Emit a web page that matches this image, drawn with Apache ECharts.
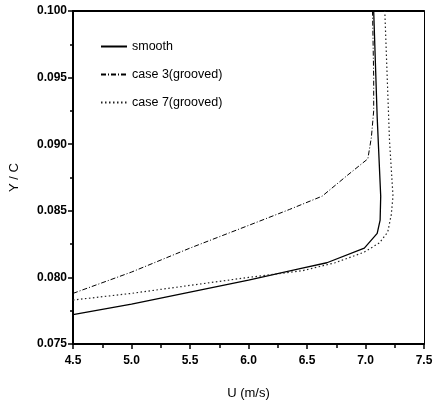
<!DOCTYPE html>
<html>
<head>
<meta charset="utf-8">
<script src="https://cdn.jsdelivr.net/npm/echarts@6/dist/echarts.min.js"></script>
<style>
  html, body { margin: 0; padding: 0; background: #fff; }
  #chart { width: 436px; height: 405px; }
</style>
</head>
<body>
<div id="chart"></div>
<script>
// Velocity profiles: U (m/s) against normalised height Y / C
var smoothU = [4.5, 5.0, 5.5, 6.0, 6.46, 6.67, 6.99, 7.10, 7.125, 7.13, 7.10, 7.07];
var smoothY = [0.0772, 0.0780, 0.0789, 0.0798, 0.0807, 0.0811, 0.0822, 0.0833, 0.0843, 0.0861, 0.0920, 0.1000];

var case3U = [4.5, 5.0, 5.5, 6.0, 6.35, 6.63, 6.85, 7.02, 7.05, 7.07, 7.07, 7.06];
var case3Y = [0.0788, 0.0804, 0.0822, 0.0839, 0.0851, 0.0861, 0.0877, 0.0889, 0.0905, 0.0925, 0.0950, 0.1000];

var case7U = [4.5, 5.0, 5.5, 6.0, 6.46, 6.74, 6.99, 7.12, 7.19, 7.22, 7.235, 7.205, 7.165];
var case7Y = [0.0783, 0.0788, 0.0794, 0.0800, 0.0805, 0.0811, 0.0819, 0.0826, 0.0834, 0.0847, 0.0861, 0.0903, 0.1000];

var seriesNames = ['smooth', 'case 3(grooved)', 'case 7(grooved)'];

function pairs(xs, ys) {
  return xs.map(function (x, i) { return [x, ys[i]]; });
}

var FONT = '"Liberation Sans", Arial, sans-serif';
var chart = echarts.init(document.getElementById('chart'));

var tickLabel = { fontFamily: FONT, fontSize: 12, fontWeight: 'bold', color: '#000' };

chart.setOption({
  animation: false,
  backgroundColor: '#fff',
  grid: { left: 68, right: 12, top: 11, bottom: 53 },
  legend: {
    orient: 'vertical',
    left: 100,
    top: 40,
    padding: 0,
    itemWidth: 26,
    itemHeight: 12,
    itemGap: 15,
    itemStyle: { opacity: 0 },
    textStyle: { fontFamily: FONT, fontSize: 12.5, color: '#000' },
    data: seriesNames
  },
  xAxis: [{
    type: 'value',
    min: 4.5, max: 7.5, interval: 0.5,
    name: 'U (m/s)',
    nameLocation: 'middle',
    nameGap: 43,
    nameTextStyle: { fontFamily: FONT, fontSize: 13, color: '#000' },
    axisLine: { lineStyle: { color: '#000', width: 2 } },
    axisTick: { inside: false, length: 5, lineStyle: { color: '#000', width: 1.5 } },
    minorTick: { show: true, splitNumber: 2, length: 4, lineStyle: { color: '#000', width: 1.5 } },
    axisLabel: Object.assign({ margin: 11, formatter: function (v) { return v.toFixed(1); } }, tickLabel),
    splitLine: { show: false }
  }, {
    type: 'value',
    position: 'top',
    min: 4.5, max: 7.5, interval: 0.5,
    axisLine: { show: true, lineStyle: { color: '#000', width: 2 } },
    axisTick: { show: false },
    axisLabel: { show: false },
    splitLine: { show: false }
  }],
  yAxis: [{
    type: 'value',
    min: 0.075, max: 0.100, interval: 0.005,
    name: 'Y / C',
    nameLocation: 'middle',
    nameGap: 52,
    nameTextStyle: { fontFamily: FONT, fontSize: 13, color: '#000' },
    axisLine: { show: true, lineStyle: { color: '#000', width: 2 } },
    axisTick: { show: true, inside: false, length: 5, lineStyle: { color: '#000', width: 1.5 } },
    minorTick: { show: true, splitNumber: 2, length: 3, lineStyle: { color: '#000', width: 1.5 } },
    axisLabel: Object.assign({ margin: 6, formatter: function (v) { return v.toFixed(3); } }, tickLabel),
    splitLine: { show: false }
  }, {
    type: 'value',
    position: 'right',
    min: 0.075, max: 0.100, interval: 0.005,
    axisLine: { show: true, lineStyle: { color: '#000', width: 1 } },
    axisTick: { show: false },
    axisLabel: { show: false },
    splitLine: { show: false }
  }],
  series: [{
    name: seriesNames[0],
    type: 'line',
    symbol: 'none',
    data: pairs(smoothU, smoothY),
    lineStyle: { color: '#000', width: 1.3, type: 'solid' },
    itemStyle: { color: '#000' }
  }, {
    name: seriesNames[1],
    type: 'line',
    symbol: 'none',
    data: pairs(case3U, case3Y),
    lineStyle: { color: '#000', width: 1, type: [5, 2, 1, 2] },
    itemStyle: { color: '#000' }
  }, {
    name: seriesNames[2],
    type: 'line',
    symbol: 'none',
    data: pairs(case7U, case7Y),
    lineStyle: { color: '#222', width: 1.2, type: [1.5, 2.5] },
    itemStyle: { color: '#222' }
  }]
});
</script>
</body>
</html>
